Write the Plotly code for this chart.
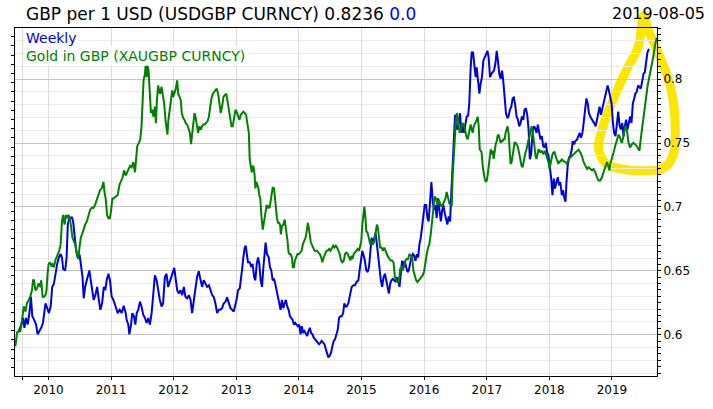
import plotly.graph_objects as go
import pandas as pd

# ---- data (decimal-year time positions) ----
usd_t = [
    2009.500, 2009.527, 2009.569, 2009.596, 2009.617, 2009.643, 2009.670, 2009.696, 2009.723, 2009.744,
    2009.771, 2009.803, 2009.829, 2009.856, 2009.887, 2009.914, 2009.935, 2009.956, 2009.983, 2010.010,
    2010.036, 2010.063, 2010.089, 2010.116, 2010.142, 2010.169, 2010.195, 2010.217, 2010.238, 2010.270,
    2010.291, 2010.312, 2010.339, 2010.376, 2010.397, 2010.418, 2010.445, 2010.471, 2010.498, 2010.519,
    2010.546, 2010.567, 2010.588, 2010.620, 2010.657, 2010.678, 2010.705, 2010.726, 2010.753, 2010.779,
    2010.806, 2010.832, 2010.859, 2010.885, 2010.912, 2010.933, 2010.960, 2010.986, 2011.013, 2011.039,
    2011.076, 2011.108, 2011.140, 2011.172, 2011.204, 2011.236,
    2011.252, 2011.278, 2011.294, 2011.321, 2011.342, 2011.368, 2011.390, 2011.411, 2011.437, 2011.464,
    2011.490, 2011.517, 2011.544, 2011.570, 2011.597, 2011.623, 2011.650, 2011.676, 2011.703, 2011.729,
    2011.756, 2011.782, 2011.809, 2011.835, 2011.862, 2011.889, 2011.915, 2011.942, 2011.968, 2011.995,
    2012.011, 2012.032, 2012.058, 2012.085, 2012.111, 2012.138, 2012.165, 2012.191, 2012.218, 2012.244,
    2012.271, 2012.297, 2012.324, 2012.350, 2012.377, 2012.403, 2012.430, 2012.456, 2012.483, 2012.510,
    2012.536, 2012.563, 2012.589, 2012.616, 2012.642, 2012.669, 2012.695, 2012.722, 2012.748, 2012.775,
    2012.802, 2012.828, 2012.855, 2012.881, 2012.908, 2012.934, 2012.961,
    2013.003, 2013.030, 2013.056, 2013.072, 2013.093, 2013.115, 2013.136, 2013.152, 2013.168, 2013.189,
    2013.216, 2013.242, 2013.263, 2013.285, 2013.306, 2013.327, 2013.348, 2013.369, 2013.391, 2013.412,
    2013.433, 2013.454, 2013.470, 2013.492, 2013.518, 2013.539, 2013.561, 2013.582, 2013.603, 2013.624,
    2013.645, 2013.667, 2013.688, 2013.709, 2013.730, 2013.752, 2013.773, 2013.794, 2013.815, 2013.837,
    2013.858, 2013.879, 2013.900, 2013.921, 2013.943, 2013.964, 2013.985, 2014.006, 2014.028, 2014.049,
    2014.070, 2014.091, 2014.113, 2014.134, 2014.155, 2014.176, 2014.197, 2014.219, 2014.240, 2014.261,
    2014.282, 2014.304, 2014.325, 2014.346, 2014.367, 2014.389, 2014.410, 2014.431, 2014.452, 2014.473,
    2014.495, 2014.516, 2014.537, 2014.558, 2014.580, 2014.601, 2014.622, 2014.643, 2014.665, 2014.686,
    2014.707, 2014.728, 2014.749,
    2014.765, 2014.792, 2014.818, 2014.845, 2014.872, 2014.898, 2014.925, 2014.951, 2014.972, 2014.994,
    2015.015, 2015.036, 2015.057, 2015.079, 2015.100, 2015.121, 2015.142, 2015.164, 2015.185, 2015.206,
    2015.227, 2015.248, 2015.270, 2015.291, 2015.312, 2015.333, 2015.355, 2015.376, 2015.397, 2015.418,
    2015.440, 2015.461, 2015.482, 2015.503, 2015.524, 2015.546, 2015.567, 2015.588, 2015.609, 2015.631,
    2015.652, 2015.673, 2015.694, 2015.716, 2015.737, 2015.758, 2015.779, 2015.800, 2015.822, 2015.843,
    2015.864, 2015.885, 2015.907, 2015.928, 2015.949, 2015.970, 2015.992, 2016.013, 2016.034, 2016.055,
    2016.076, 2016.098, 2016.119, 2016.140, 2016.161, 2016.183, 2016.204, 2016.225, 2016.246, 2016.268,
    2016.289, 2016.310, 2016.331, 2016.352, 2016.374, 2016.395, 2016.416, 2016.437, 2016.459, 2016.480,
    2016.496,
    2016.512, 2016.533, 2016.554, 2016.575, 2016.597, 2016.618, 2016.639, 2016.660, 2016.682, 2016.703,
    2016.724, 2016.745, 2016.761, 2016.782, 2016.804, 2016.825, 2016.841, 2016.862, 2016.883, 2016.904,
    2016.926, 2016.947, 2016.968, 2016.989, 2017.011, 2017.032, 2017.053, 2017.074, 2017.096, 2017.117,
    2017.138, 2017.159, 2017.180, 2017.202, 2017.223, 2017.244, 2017.265, 2017.287, 2017.308, 2017.329,
    2017.350, 2017.372, 2017.393, 2017.414, 2017.435, 2017.456, 2017.478, 2017.499, 2017.520, 2017.541,
    2017.563, 2017.584, 2017.605, 2017.626, 2017.648, 2017.669, 2017.690, 2017.711, 2017.732, 2017.754,
    2017.775, 2017.796, 2017.817, 2017.839, 2017.860, 2017.881, 2017.902, 2017.924, 2017.945, 2017.966,
    2017.987, 2018.008, 2018.030, 2018.051, 2018.072, 2018.093, 2018.115, 2018.136, 2018.157, 2018.178,
    2018.200, 2018.221,
    2018.231, 2018.258, 2018.274, 2018.295, 2018.316, 2018.338, 2018.359, 2018.375, 2018.396, 2018.417,
    2018.444, 2018.465, 2018.486, 2018.507, 2018.529, 2018.550, 2018.571, 2018.592, 2018.614, 2018.635,
    2018.656, 2018.677, 2018.699, 2018.720, 2018.741, 2018.762, 2018.783, 2018.805, 2018.826, 2018.847,
    2018.868, 2018.890, 2018.911, 2018.932, 2018.953, 2018.975, 2018.996, 2019.017, 2019.038, 2019.059,
    2019.081, 2019.102, 2019.123, 2019.144, 2019.166, 2019.187, 2019.208, 2019.229, 2019.251, 2019.272,
    2019.293, 2019.314, 2019.335, 2019.357, 2019.378, 2019.399, 2019.420, 2019.442, 2019.463, 2019.484,
    2019.505, 2019.527, 2019.548, 2019.569, 2019.592,
]
usd_gbp = [
    0.6015, 0.6028, 0.6079, 0.6131, 0.6054, 0.6131, 0.6079, 0.6169, 0.6297, 0.6144,
    0.6118, 0.6079, 0.6003, 0.6028, 0.6054, 0.6092, 0.6195, 0.6246, 0.6208, 0.6169,
    0.6221, 0.6374, 0.6400, 0.6503, 0.6554, 0.6605, 0.6631, 0.6605, 0.6515, 0.6503,
    0.6605, 0.6862, 0.6918, 0.6918, 0.6887, 0.6785, 0.6656, 0.6605, 0.6631, 0.6554,
    0.6451, 0.6285, 0.6374, 0.6438, 0.6503, 0.6426, 0.6349, 0.6272, 0.6310, 0.6374,
    0.6272, 0.6195, 0.6246, 0.6374, 0.6349, 0.6426, 0.6477, 0.6426, 0.6297, 0.6272,
    0.6221, 0.6169, 0.6195, 0.6169, 0.6226, 0.6169,
    0.6118, 0.6079, 0.6003, 0.6079, 0.6169, 0.6144, 0.6079, 0.6169, 0.6195, 0.6259,
    0.6221, 0.6156, 0.6131, 0.6092, 0.6131, 0.6079, 0.6169, 0.6349, 0.6464, 0.6426,
    0.6349, 0.6272, 0.6221, 0.6246, 0.6451, 0.6477, 0.6374, 0.6413, 0.6451, 0.6503,
    0.6523, 0.6451, 0.6349, 0.6323, 0.6349, 0.6310, 0.6374, 0.6297, 0.6285, 0.6310,
    0.6272, 0.6169, 0.6272, 0.6349, 0.6451, 0.6497, 0.6426, 0.6374, 0.6426, 0.6400,
    0.6374, 0.6387, 0.6349, 0.6310, 0.6297, 0.6246, 0.6169, 0.6195, 0.6195, 0.6208,
    0.6246, 0.6259, 0.6292, 0.6246, 0.6208, 0.6195, 0.6182,
    0.6272, 0.6349, 0.6362, 0.6451, 0.6503, 0.6605, 0.6682, 0.6695, 0.6631, 0.6567,
    0.6567, 0.6528, 0.6554, 0.6451, 0.6426, 0.6554, 0.6605, 0.6554, 0.6426, 0.6374,
    0.6528, 0.6656, 0.6721, 0.6631, 0.6605, 0.6528, 0.6503, 0.6426, 0.6438, 0.6400,
    0.6349, 0.6272, 0.6246, 0.6195, 0.6272, 0.6208, 0.6246, 0.6272, 0.6221, 0.6195,
    0.6144, 0.6131, 0.6118, 0.6079, 0.6092, 0.6079, 0.6067, 0.6079, 0.6003, 0.6067,
    0.6015, 0.6028, 0.6003, 0.5990, 0.6028, 0.6054, 0.6015, 0.6003, 0.5977, 0.5964,
    0.5951, 0.5938, 0.5926, 0.5938, 0.5951, 0.5938, 0.5926, 0.5887, 0.5849, 0.5823,
    0.5836, 0.5862, 0.5913, 0.5951, 0.5964, 0.6003, 0.6041, 0.6131, 0.6144, 0.6144,
    0.6169, 0.6246, 0.6221,
    0.6221, 0.6246, 0.6310, 0.6374, 0.6387, 0.6387, 0.6413, 0.6426, 0.6503, 0.6579,
    0.6656, 0.6618, 0.6579, 0.6503, 0.6490, 0.6528, 0.6631, 0.6759, 0.6708, 0.6759,
    0.6797, 0.6708, 0.6605, 0.6554, 0.6426, 0.6374, 0.6451, 0.6477, 0.6426, 0.6374,
    0.6323, 0.6400, 0.6426, 0.6438, 0.6426, 0.6413, 0.6451, 0.6426, 0.6374, 0.6503,
    0.6579, 0.6528, 0.6579, 0.6528, 0.6490, 0.6503, 0.6554, 0.6605, 0.6631, 0.6618,
    0.6579, 0.6631, 0.6605, 0.6708, 0.6759, 0.6836, 0.6938, 0.7015, 0.7015, 0.6913,
    0.6887, 0.7041, 0.7195, 0.7041, 0.6977, 0.7015, 0.6913, 0.7067, 0.6990, 0.6887,
    0.6964, 0.7015, 0.6951, 0.6913, 0.6862, 0.6926, 0.6887, 0.7105, 0.7374, 0.7528,
    0.7721,
    0.7631, 0.7605, 0.7656, 0.7733, 0.7579, 0.7631, 0.7579, 0.7656, 0.7708, 0.7713,
    0.7810, 0.8092, 0.8208, 0.8208, 0.8118, 0.8015, 0.8092, 0.7990, 0.7887, 0.7964,
    0.8015, 0.8144, 0.8169, 0.8195, 0.8221, 0.8169, 0.8015, 0.8041, 0.8054, 0.8067,
    0.8118, 0.8221, 0.8144, 0.8041, 0.8003, 0.8067, 0.7990, 0.7887, 0.7733, 0.7695,
    0.7708, 0.7759, 0.7785, 0.7849, 0.7856, 0.7797, 0.7708, 0.7682, 0.7631, 0.7656,
    0.7708, 0.7682, 0.7759, 0.7772, 0.7721, 0.7605, 0.7374, 0.7413, 0.7579, 0.7631,
    0.7618, 0.7579, 0.7644, 0.7579, 0.7528, 0.7554, 0.7477, 0.7464, 0.7503, 0.7426,
    0.7400, 0.7323, 0.7233, 0.7092, 0.7221, 0.7144, 0.7195, 0.7233, 0.7169, 0.7195,
    0.7092, 0.7131,
    0.7092, 0.7041, 0.7195, 0.7323, 0.7387, 0.7400, 0.7451, 0.7515, 0.7490, 0.7515,
    0.7528, 0.7554, 0.7579, 0.7541, 0.7579, 0.7656, 0.7759, 0.7849, 0.7810, 0.7733,
    0.7708, 0.7682, 0.7669, 0.7656, 0.7631, 0.7682, 0.7733, 0.7785, 0.7721, 0.7772,
    0.7823, 0.7862, 0.7900, 0.7951, 0.7913, 0.7862, 0.7810, 0.7656, 0.7579, 0.7554,
    0.7631, 0.7746, 0.7644, 0.7605, 0.7656, 0.7554, 0.7631, 0.7682, 0.7605, 0.7656,
    0.7708, 0.7656, 0.7810, 0.7849, 0.7887, 0.7900, 0.7951, 0.7938, 0.7926, 0.7977,
    0.8041, 0.8054, 0.8144, 0.8208, 0.8236,
]

gold_t = [
    2009.473, 2009.500, 2009.527, 2009.553, 2009.580, 2009.606, 2009.633, 2009.659, 2009.686, 2009.712,
    2009.739, 2009.755, 2009.771, 2009.792, 2009.818, 2009.845, 2009.872, 2009.887, 2009.909, 2009.935,
    2009.956, 2009.972, 2009.988, 2010.004, 2010.025, 2010.047, 2010.068, 2010.089, 2010.110, 2010.132,
    2010.153, 2010.174, 2010.195, 2010.217, 2010.238, 2010.259, 2010.280, 2010.301, 2010.323, 2010.344,
    2010.365, 2010.386, 2010.408, 2010.429, 2010.455, 2010.477, 2010.498, 2010.519, 2010.546, 2010.567,
    2010.588, 2010.615, 2010.641, 2010.668, 2010.694, 2010.721, 2010.747, 2010.774, 2010.800, 2010.827,
    2010.854, 2010.880, 2010.896, 2010.917, 2010.938, 2010.960, 2010.981, 2011.002, 2011.023, 2011.045,
    2011.076, 2011.108, 2011.135, 2011.161, 2011.188, 2011.209, 2011.236,
    2011.252, 2011.278, 2011.305, 2011.331, 2011.358, 2011.384, 2011.406, 2011.421, 2011.448, 2011.469,
    2011.490, 2011.506, 2011.522, 2011.544, 2011.554, 2011.570, 2011.586, 2011.602, 2011.623, 2011.639,
    2011.660, 2011.682, 2011.703, 2011.719, 2011.735, 2011.756, 2011.772, 2011.788, 2011.809, 2011.830,
    2011.851, 2011.873, 2011.889, 2011.904, 2011.920, 2011.942, 2011.963, 2011.979, 2011.995, 2012.016,
    2012.037, 2012.058, 2012.074, 2012.096, 2012.117, 2012.133, 2012.154, 2012.175, 2012.196, 2012.218,
    2012.239, 2012.260, 2012.281, 2012.297, 2012.313, 2012.334, 2012.350, 2012.372, 2012.393, 2012.414,
    2012.435, 2012.456, 2012.478, 2012.499, 2012.520, 2012.541, 2012.563, 2012.584, 2012.605, 2012.626,
    2012.648, 2012.669, 2012.690, 2012.711, 2012.732, 2012.754, 2012.775, 2012.796, 2012.817, 2012.839,
    2012.860, 2012.881, 2012.902, 2012.924, 2012.945, 2012.966, 2012.987,
    2013.008, 2013.030, 2013.051, 2013.072, 2013.093, 2013.115, 2013.136, 2013.157, 2013.178, 2013.200,
    2013.216, 2013.231, 2013.247, 2013.263, 2013.279, 2013.295, 2013.306, 2013.322, 2013.338, 2013.354,
    2013.369, 2013.385, 2013.401, 2013.412, 2013.423, 2013.438, 2013.454, 2013.470, 2013.486, 2013.502,
    2013.518, 2013.534, 2013.550, 2013.566, 2013.582, 2013.603, 2013.619, 2013.635, 2013.651, 2013.667,
    2013.683, 2013.699, 2013.714, 2013.730, 2013.752, 2013.773, 2013.789, 2013.805, 2013.821, 2013.837,
    2013.852, 2013.868, 2013.890, 2013.906, 2013.921, 2013.937, 2013.959, 2013.980, 2014.001, 2014.022,
    2014.044, 2014.065, 2014.086, 2014.107, 2014.128, 2014.144, 2014.160, 2014.176, 2014.192, 2014.208,
    2014.229, 2014.251, 2014.272, 2014.293, 2014.314, 2014.335, 2014.357, 2014.378, 2014.399, 2014.420,
    2014.442, 2014.463, 2014.484, 2014.505, 2014.527, 2014.548, 2014.569, 2014.590, 2014.611, 2014.633,
    2014.654, 2014.675, 2014.696, 2014.718, 2014.739,
    2014.760, 2014.781, 2014.803, 2014.824, 2014.840, 2014.856, 2014.877, 2014.898, 2014.919, 2014.941,
    2014.962, 2014.983, 2014.999, 2015.015, 2015.031, 2015.047, 2015.063, 2015.079, 2015.100, 2015.121,
    2015.142, 2015.164, 2015.185, 2015.206, 2015.227, 2015.248, 2015.264, 2015.280, 2015.301, 2015.323,
    2015.344, 2015.365, 2015.386, 2015.408, 2015.429, 2015.450, 2015.471, 2015.493, 2015.514, 2015.535,
    2015.556, 2015.577, 2015.599, 2015.620, 2015.641, 2015.662, 2015.684, 2015.705, 2015.726, 2015.747,
    2015.769, 2015.790, 2015.811, 2015.832, 2015.854, 2015.875, 2015.896, 2015.917, 2015.938, 2015.960,
    2015.981, 2016.002, 2016.023, 2016.045, 2016.066, 2016.087, 2016.108, 2016.130, 2016.151, 2016.172,
    2016.193, 2016.214, 2016.236, 2016.257, 2016.278, 2016.299, 2016.321, 2016.342, 2016.363, 2016.384,
    2016.406, 2016.427,
    2016.443, 2016.459, 2016.475, 2016.490, 2016.506, 2016.522, 2016.538, 2016.554, 2016.570, 2016.586,
    2016.602, 2016.618, 2016.634, 2016.650, 2016.666, 2016.682, 2016.697, 2016.713, 2016.729, 2016.745,
    2016.761, 2016.777, 2016.793, 2016.809, 2016.825, 2016.841, 2016.857, 2016.873, 2016.889, 2016.904,
    2016.920, 2016.936, 2016.952, 2016.968, 2016.984, 2017.000, 2017.016, 2017.032, 2017.048, 2017.064,
    2017.080, 2017.096, 2017.112, 2017.127, 2017.143, 2017.159, 2017.175, 2017.191, 2017.207, 2017.223,
    2017.239, 2017.255, 2017.271, 2017.287, 2017.303, 2017.318, 2017.334, 2017.350, 2017.366, 2017.382,
    2017.398, 2017.414, 2017.430, 2017.446, 2017.462, 2017.478, 2017.494, 2017.510, 2017.526, 2017.541,
    2017.557, 2017.573, 2017.589, 2017.605, 2017.621, 2017.637, 2017.653, 2017.669, 2017.685, 2017.701,
    2017.717, 2017.732, 2017.748, 2017.764, 2017.780, 2017.796, 2017.812, 2017.828, 2017.844, 2017.860,
    2017.876, 2017.892, 2017.908, 2017.924, 2017.939, 2017.955, 2017.971, 2017.987, 2018.003, 2018.019,
    2018.035, 2018.051, 2018.067, 2018.083, 2018.099, 2018.115, 2018.131, 2018.146, 2018.162, 2018.178,
    2018.200, 2018.221,
    2018.258, 2018.285, 2018.311, 2018.338, 2018.364, 2018.391, 2018.417, 2018.444, 2018.470, 2018.497,
    2018.523, 2018.550, 2018.576, 2018.603, 2018.630, 2018.656, 2018.683, 2018.709, 2018.736, 2018.762,
    2018.789, 2018.815, 2018.842, 2018.868, 2018.895, 2018.921, 2018.948, 2018.964, 2018.975, 2019.001,
    2019.028, 2019.054, 2019.081, 2019.107, 2019.134, 2019.160, 2019.187, 2019.213, 2019.240, 2019.267,
    2019.293, 2019.320, 2019.346, 2019.373, 2019.399, 2019.426, 2019.442, 2019.463, 2019.484, 2019.505,
    2019.527, 2019.548, 2019.569, 2019.590, 2019.611, 2019.638, 2019.665, 2019.691, 2019.718,
]
gold_gbp = [
    566, 596, 599, 599, 624, 653, 642, 660, 667, 674,
    688, 710, 710, 688, 692, 703, 695, 710, 674, 674,
    678, 688, 724, 745, 749, 742, 745, 738, 753, 760,
    767, 774, 788, 838, 852, 831, 852, 845, 852, 845,
    824, 803, 795, 788, 767, 756, 781, 803, 813, 824,
    831, 838, 852, 863, 868, 867, 874, 885, 895, 906,
    910, 924, 902, 888, 852, 845, 845, 860, 888, 888,
    892, 895, 917, 924, 934, 949, 938,
    942, 952, 959, 956, 967, 945, 974, 1002, 1009, 1017,
    1045, 1095, 1145, 1159, 1177, 1152, 1177, 1166, 1116, 1074,
    1081, 1066, 1088, 1052, 1102, 1134, 1123, 1116, 1131, 1116,
    1095, 1059, 1045, 1027, 1059, 1081, 1095, 1123, 1109, 1116,
    1127, 1145, 1116, 1109, 1102, 1074, 1063, 1059, 1052, 1049,
    1038, 1031, 1006, 1024, 1045, 1074, 1066, 1049, 1031, 1045,
    1038, 1045, 1049, 1049, 1052, 1056, 1066, 1088, 1106, 1116,
    1120, 1123, 1127, 1116, 1095, 1074, 1088, 1109, 1113, 1116,
    1102, 1081, 1059, 1045, 1045, 1066, 1081,
    1077, 1070, 1059, 1070, 1074, 1077, 1074, 1070, 1052, 1031,
    974, 959, 945, 959, 956, 938, 910, 924, 917, 910,
    895, 888, 852, 831, 820, 831, 845, 852, 874, 867,
    870, 867, 881, 902, 911, 910, 888, 860, 845, 835,
    835, 831, 810, 828, 831, 842, 831, 810, 795, 770,
    767, 767, 760, 738, 738, 753, 763, 767, 767, 770,
    774, 788, 795, 803, 817, 835, 824, 803, 792, 788,
    781, 774, 774, 774, 770, 767, 760, 749, 760, 767,
    774, 774, 778, 774, 781, 785, 781, 785, 781, 774,
    767, 753, 749, 753, 767,
    770, 767, 760, 753, 763, 756, 767, 770, 774, 778,
    774, 788, 795, 831, 860, 870, 852, 817, 813, 799,
    788, 795, 788, 795, 817, 831, 824, 803, 781, 781,
    774, 781, 774, 767, 760, 756, 753, 753, 749, 717,
    710, 706, 706, 735, 738, 731, 742, 753, 756, 756,
    767, 763, 760, 731, 717, 710, 706, 710, 713, 717,
    721, 728, 753, 767, 781, 788, 810, 845, 874, 892,
    888, 874, 885, 874, 870, 874, 881, 888, 902, 892,
    877, 874,
    874, 938, 988, 1038, 1052, 1074, 1066, 1045, 1031, 1038,
    1045, 1052, 1049, 1038, 1031, 1020, 1017, 1027, 1038, 1049,
    1038, 1031, 1045, 1049, 1052, 1059, 1066, 1045, 995, 992,
    988, 959, 938, 931, 924, 927, 938, 959, 988, 995,
    984, 992, 974, 995, 1006, 1013, 1024, 1027, 1017, 1009,
    1013, 1013, 1017, 1017, 1031, 1038, 1045, 1031, 988, 963,
    967, 981, 1002, 1009, 1009, 1006, 1002, 992, 981, 967,
    959, 956, 967, 974, 988, 995, 1009, 1017, 1024, 1038,
    1045, 1038, 1024, 1002, 981, 974, 984, 995, 992, 988,
    992, 988, 984, 992, 988, 981, 974, 967, 952, 963,
    977, 984, 988, 989, 981, 974, 967, 963, 970, 967,
    974, 970,
    967, 963, 974, 977, 981, 984, 988, 992, 994, 988,
    981, 967, 959, 952, 956, 952, 949, 952, 945, 934,
    927, 927, 934, 945, 959, 967, 956, 949, 963, 974,
    988, 1002, 1017, 1027, 1020, 1009, 1024, 1045, 1038, 1009,
    999, 1006, 1009, 1006, 1002, 995, 992, 1017, 1038, 1059,
    1088, 1109, 1131, 1145, 1166, 1181, 1198, 1223, 1238,
]

year_ticks = list(range(2010, 2020))
window_start = "2009-08-05"
as_of = "2019-08-05"


def to_date(t):
    y = int(t)
    start = pd.Timestamp(year=y, month=1, day=1)
    end = pd.Timestamp(year=y + 1, month=1, day=1)
    return (start + (end - start) * (t - y)).strftime("%Y-%m-%d")


usd_dates = [to_date(t) for t in usd_t]
gold_dates = [to_date(t) for t in gold_t]

FONT = "DejaVu Sans"
BLUE = "#0000dd"
GREEN = "#008000"

fig = go.Figure()
fig.add_trace(go.Scatter(x=usd_dates, y=usd_gbp, mode="lines", yaxis="y",
                         line=dict(color=BLUE, width=2), hoverinfo="skip", showlegend=False))
fig.add_trace(go.Scatter(x=gold_dates, y=gold_gbp, mode="lines", yaxis="y2",
                         line=dict(color=GREEN, width=2), hoverinfo="skip", showlegend=False))
# carrier for the fine tick axis
fig.add_trace(go.Scatter(x=[None], y=[None], yaxis="y3", showlegend=False, hoverinfo="skip"))

y_range = [0.5677, 0.84]

# hand-drawn yellow highlight loop (paper coordinates)
loop = [(0.9783, 1.0339), (0.9710, 0.9472), (0.9529, 0.8814), (0.9322, 0.7966), (0.9166, 0.7212),
        (0.9089, 0.6647), (0.9115, 0.6364), (0.9219, 0.6082), (0.9477, 0.5941), (0.9840, 0.5895),
        (1.0047, 0.5941), (1.0176, 0.6082), (1.0253, 0.6364), (1.0280, 0.6647), (1.0280, 0.7401),
        (1.0228, 0.8155), (1.0124, 0.8814), (0.9995, 0.9379), (0.9865, 0.9944)]


def smooth_closed(pts):
    n = len(pts)
    d = "M %.4f,%.4f" % pts[0]
    for i in range(n):
        p0, p1, p2, p3 = pts[i - 1], pts[i], pts[(i + 1) % n], pts[(i + 2) % n]
        c1 = (p1[0] + (p2[0] - p0[0]) / 6, p1[1] + (p2[1] - p0[1]) / 6)
        c2 = (p2[0] - (p3[0] - p1[0]) / 6, p2[1] - (p3[1] - p1[1]) / 6)
        d += " C %.4f,%.4f %.4f,%.4f %.4f,%.4f" % (c1 + c2 + p2)
    return d + " Z"


fig.update_layout(
    width=713, height=409,
    margin=dict(l=13, r=56, t=28, b=27),
    paper_bgcolor="white", plot_bgcolor="white",
    font=dict(family=FONT, color="black", size=12),
    showlegend=False,
    hovermode=False,
    xaxis=dict(
        type="date",
        range=[to_date(2009.468), to_date(2019.723)],
        tickvals=[window_start] + [f"{y}-01-01" for y in year_ticks],
        ticktext=[""] + [str(y) for y in year_ticks],
        ticks="outside", ticklen=3, tickcolor="black",
        showgrid=True, gridcolor="#dcdcdc", gridwidth=1,
        showline=True, linecolor="black", linewidth=1, mirror=True,
        zeroline=False, tickfont=dict(size=12),
    ),
    yaxis=dict(
        side="right", range=y_range,
        tick0=0.6, dtick=0.05,
        ticks="outside", ticklen=3, tickcolor="black",
        showgrid=True, gridcolor="#c4c4c4", gridwidth=1,
        minor=dict(dtick=0.01, showgrid=True, gridcolor="#ececec", ticks=""),
        showline=True, linecolor="black", linewidth=1,
        zeroline=False, tickfont=dict(size=12),
    ),
    yaxis2=dict(
        overlaying="y", side="left", range=[501.5, 1259.05],
        dtick=20, tick0=0, ticks="outside", ticklen=3, tickcolor="black",
        showticklabels=False, showgrid=False,
        showline=True, linecolor="black", linewidth=1, zeroline=False,
    ),
    yaxis3=dict(
        overlaying="y", side="right", range=y_range,
        dtick=0.005, tick0=0.6, ticks="outside", ticklen=3, tickcolor="black",
        showticklabels=False, showgrid=False, showline=False, zeroline=False,
    ),
    shapes=[dict(type="path", xref="paper", yref="paper", path=smooth_closed(loop),
                 line=dict(color="#ffe600", width=9), fillcolor="rgba(0,0,0,0)", layer="between")],
    annotations=[
        dict(xref="paper", yref="paper", x=0.0145, y=1.0415, xanchor="left", yanchor="middle",
             text=f"GBP per 1 USD (USDGBP CURNCY) {usd_gbp[-1]:.4f} <span style='color:#0000ff'>0.0</span>",
             showarrow=False, font=dict(size=17, color="black")),
        dict(xref="paper", yref="paper", x=1.0776, y=1.0415, xanchor="right", yanchor="middle",
             text=as_of, showarrow=False, font=dict(size=16, color="black")),
        dict(xref="paper", yref="paper", x=0.0145, y=0.9706, xanchor="left", yanchor="middle",
             text="Weekly", showarrow=False, font=dict(size=14, color=BLUE), bgcolor="white"),
        dict(xref="paper", yref="paper", x=0.0145, y=0.9192, xanchor="left", yanchor="middle",
             text="Gold in GBP (XAUGBP CURNCY)", showarrow=False, font=dict(size=14, color=GREEN),
             bgcolor="white"),
    ],
)

fig.write_html("out.html", config={"displayModeBar": False, "staticPlot": True},
               post_script="document.body.style.margin='0px';")
